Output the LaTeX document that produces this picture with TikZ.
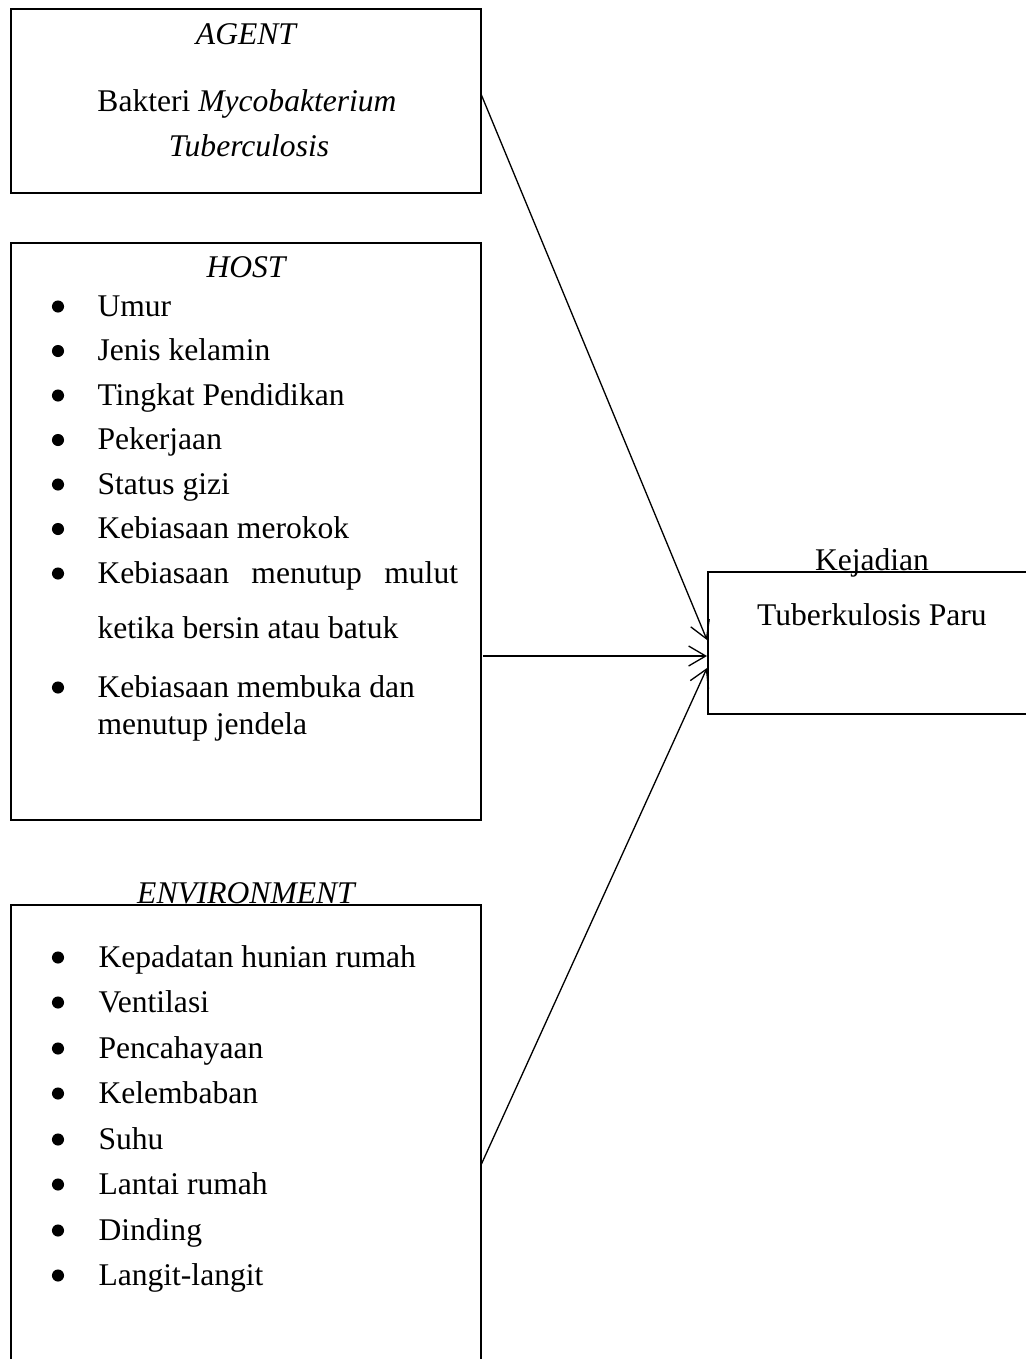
\documentclass[tikz,border=0pt]{standalone}
\usepackage{fontspec}
\setmainfont{Liberation Serif}
\usetikzlibrary{arrows.meta,positioning}

\begin{document}
\fontsize{12}{14.4}\selectfont
\begin{tikzpicture}[x=0.38pt,y=-0.38pt,
    box/.style={draw,line width=0.5pt,inner sep=0pt},
    txt/.style={anchor=base,inner sep=0pt},
    item/.style={anchor=base west,inner sep=0pt},
    dot/.style={circle,fill,inner sep=0pt,minimum size=4.6pt},
    link/.style={line width=0.5pt,-{Straight Barb[length=6.5pt,width=7.6pt]}}]
  \useasboundingbox (0,0) rectangle (1026,1359);
  % Boxes
  \node[box,minimum width=178.6pt,minimum height=69.9pt] (agent) at (246,101) {};
  \node[box,minimum width=178.6pt,minimum height=219.3pt] (host) at (246,531.5) {};
  \node[box,minimum width=178.6pt,minimum height=195.7pt] (env) at (246,1162.5) {};
  \node[box,minimum width=141.4pt,minimum height=54pt] (tb) at (894,643) {};
  % Agent
  \node[txt,font=\itshape] (agentT) at (246,44) {AGENT};
  \node[txt] (agent1) at (247,111) {Bakteri \textit{Mycobakterium}};
  \node[txt,font=\itshape] (agent2) at (249,156) {Tuberculosis};
  % Host
  \node[txt,font=\itshape] (hostT) at (246,277) {HOST};
  \foreach \y/\t [count=\i] in {316/Umur, 360.5/Jenis kelamin,
      405/Tingkat Pendidikan, 449.5/Pekerjaan, 494/Status gizi,
      538.5/Kebiasaan merokok,
      583/{\hbox to 137pt{Kebiasaan \hfill menutup \hfill mulut}},
      697/Kebiasaan membuka dan} {
    \node[dot] (hb\i) at (58,{\y-9.5}) {};
    \node[item] (h\i) at (97,\y) {\t};
  }
  \node[item] (h7b) at (97,638) {ketika bersin atau batuk};
  \node[item] (h8b) at (97,734) {menutup jendela};
  % Environment
  \node[txt,font=\itshape] (envT) at (246,903) {ENVIRONMENT};
  \foreach \y/\t [count=\i] in {967/Kepadatan hunian rumah, 1012/Ventilasi,
      1058/Pencahayaan, 1103/Kelembaban, 1149/Suhu, 1194/Lantai rumah,
      1240/Dinding, 1285/Langit-langit} {
    \node[dot] (eb\i) at (58,{\y-9.5}) {};
    \node[item] (e\i) at (98,\y) {\t};
  }
  % Outcome
  \node[txt] (tbT) at (872,570) {Kejadian};
  \node[txt] (tb1) at (872,625) {Tuberkulosis Paru};
  % Arrows
  \coordinate (agentOut) at (481,94);
  \coordinate (hostOut) at (483,656);
  \coordinate (envOut) at (481,1165);
  \coordinate (tbIn1) at (707,640);
  \coordinate (tbIn2) at (707,656);
  \coordinate (tbIn3) at (707,668);
  \draw[link] (agentOut) -- (tbIn1);
  \draw[link] (hostOut) -- (tbIn2);
  \draw[link] (envOut) -- (tbIn3);
\end{tikzpicture}
\end{document}
